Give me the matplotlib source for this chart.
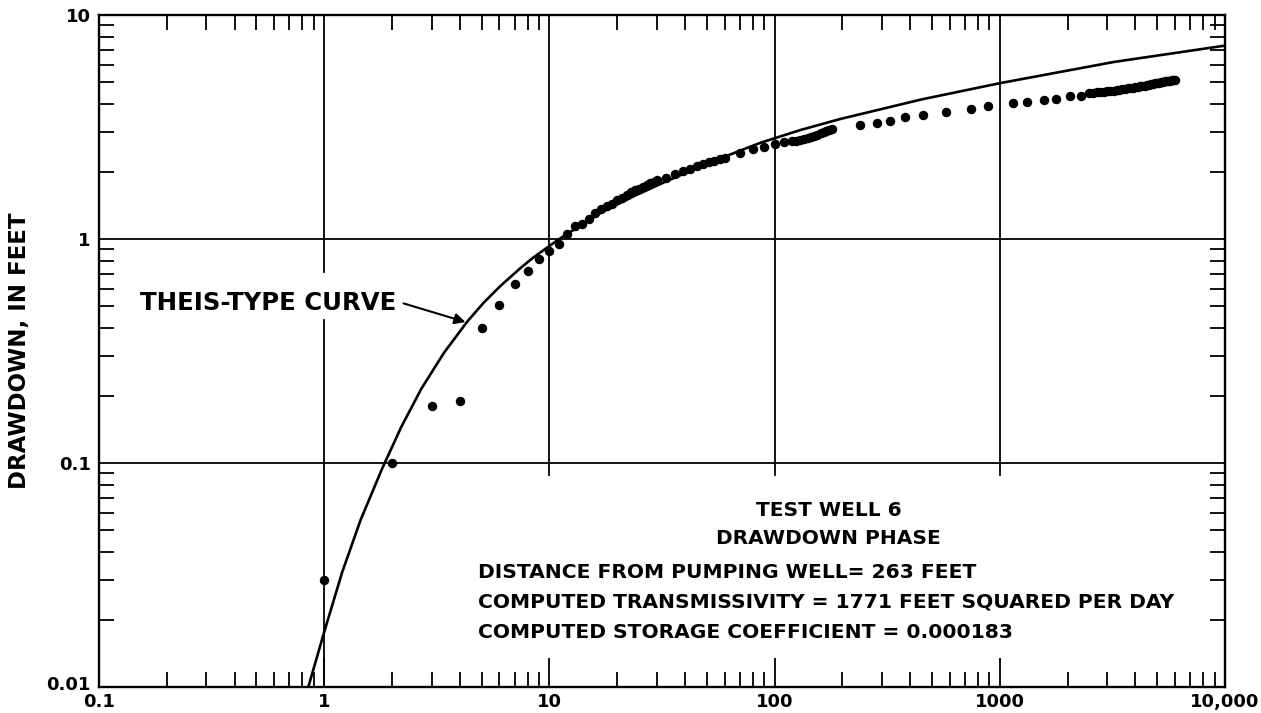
import matplotlib
matplotlib.use("Agg")
import matplotlib.pyplot as plt
from matplotlib.transforms import ScaledTranslation
from matplotlib.ticker import FixedLocator, FixedFormatter, LogLocator, NullFormatter

# observed drawdown, test well 6 (time in minutes, drawdown in feet)
obs_time = [1, 2, 3, 4, 5, 6, 7, 8, 9, 10, 11, 12, 13, 14, 15,
            16, 17, 18, 19, 20, 21, 22, 23, 24, 25, 26, 27, 28, 29, 30,
            33, 36, 39, 42, 45, 48, 51, 54, 57, 60, 70, 80, 90, 100, 110,
            120, 125, 130, 135, 140, 145, 150, 155, 160, 165, 170, 175, 180,
            240, 285, 325, 380, 455, 575, 745, 885, 1140, 1320, 1570, 1775,
            2050, 2290, 2490,
            2600, 2700, 2800, 2900, 3000, 3100, 3200, 3300, 3400, 3500,
            3600, 3700, 3800, 3900, 4000, 4100, 4200, 4300, 4400, 4500,
            4600, 4700, 4800, 4900, 5000, 5100, 5200, 5300, 5400, 5500,
            5600, 5700, 5800, 5900, 6000]
obs_drawdown = [0.03, 0.10, 0.18, 0.19, 0.40, 0.51, 0.63, 0.72, 0.81, 0.88,
                0.95, 1.05, 1.14, 1.17, 1.23,
                1.31, 1.36, 1.40, 1.44, 1.49, 1.53, 1.57, 1.62, 1.65, 1.68,
                1.71, 1.74, 1.77, 1.80, 1.83,
                1.88, 1.95, 2.01, 2.06, 2.11, 2.16, 2.20, 2.24, 2.27, 2.30,
                2.42, 2.52, 2.58, 2.66, 2.70,
                2.73, 2.75, 2.78, 2.80, 2.83, 2.86, 2.89, 2.92, 2.96, 2.99,
                3.02, 3.06, 3.10,
                3.23, 3.30, 3.37, 3.51, 3.58, 3.69, 3.80, 3.92, 4.05, 4.08,
                4.18, 4.22, 4.35, 4.35, 4.49,
                4.50, 4.52, 4.54, 4.55, 4.56, 4.57, 4.59, 4.61, 4.63, 4.65,
                4.67, 4.70, 4.72, 4.74, 4.76, 4.78, 4.80, 4.82, 4.84, 4.86,
                4.88, 4.90, 4.92, 4.95, 4.97, 4.99, 5.01, 5.03, 5.05, 5.07,
                5.08, 5.10, 5.11, 5.12, 5.13]

# Theis-type curve
curve_time = [0.85, 1.0, 1.2, 1.45, 1.81, 2.2, 2.7, 3.4, 4.31, 5.11, 6.06,
              7.43, 8.49, 11.0, 16.9, 24, 33.4, 55, 86.7, 130, 196, 450,
              1009, 3210, 10000]
curve_drawdown = [0.010, 0.0176, 0.0324, 0.0556, 0.0946, 0.145, 0.2145,
                  0.310, 0.427, 0.520, 0.617, 0.741, 0.827, 0.997, 1.31,
                  1.562, 1.818, 2.254, 2.69, 3.064, 3.435, 4.20, 4.97, 6.17,
                  7.30]

x_ticks = [0.1, 1, 10, 100, 1000, 10000]
x_labels = ["0.1", "1", "10", "100", "1000", "10,000"]
y_ticks = [0.01, 0.1, 1, 10]
y_labels = ["0.01", "0.1", "1", "10"]

info_lines = ["DISTANCE FROM PUMPING WELL= 263 FEET",
              "COMPUTED TRANSMISSIVITY = 1771 FEET SQUARED PER DAY",
              "COMPUTED STORAGE COEFFICIENT = 0.000183"]

plt.rcParams["font.family"] = ["DejaVu Sans"]
plt.rcParams["font.weight"] = "bold"

fig = plt.figure(figsize=(12.61, 7.13), dpi=100)
ax = fig.add_axes([99 / 1261, 26 / 713, 1126 / 1261, 672 / 713])
ax.set_xscale("log")
ax.set_yscale("log")
ax.set_xlim(0.1, 10000)
ax.set_ylim(0.01, 10)

for sp in ax.spines.values():
    sp.set_linewidth(1.7)

ax.xaxis.set_major_locator(FixedLocator(x_ticks))
ax.xaxis.set_major_formatter(FixedFormatter(x_labels))
ax.yaxis.set_major_locator(FixedLocator(y_ticks))
ax.yaxis.set_major_formatter(FixedFormatter(y_labels))
ax.xaxis.set_minor_locator(LogLocator(base=10, subs=range(2, 10)))
ax.yaxis.set_minor_locator(LogLocator(base=10, subs=range(2, 10)))
ax.xaxis.set_minor_formatter(NullFormatter())
ax.yaxis.set_minor_formatter(NullFormatter())

ax.tick_params(which="minor", direction="in", length=11, width=1.3,
               top=True, right=True, bottom=True, left=True)
ax.tick_params(axis="x", which="major", direction="in", length=21, width=1.3,
               top=False, pad=4, labelsize=13)
ax.tick_params(axis="y", which="major", direction="in", length=0,
               right=False, pad=6, labelsize=13)

# lift the bottom y label a little so it clears the "0.1" below it
lbl = ax.get_yticklabels()[0]
lbl.set_transform(lbl.get_transform() +
                  ScaledTranslation(0, 4 / 100, fig.dpi_scale_trans))

# grid lines, broken where the labels sit
gl = dict(color="black", lw=1.3, zorder=1)
ax.plot([1, 1], [0.01, 0.435], **gl)
ax.plot([1, 1], [0.713, 10], **gl)
for xv in [10, 100, 1000]:
    ax.plot([xv, xv], [0.088, 10], **gl)
for yv in [0.1, 1]:
    ax.axhline(yv, **gl)

ax.plot(curve_time, curve_drawdown, color="black", lw=1.9, zorder=3)
ax.plot(obs_time, obs_drawdown, "o", color="black", ms=5.8, zorder=4)

ax.text(0.152, 0.52, "THEIS-TYPE CURVE", fontsize=17.6, ha="left", va="center")
ax.annotate("", xy=(4.24, 0.426), xytext=(2.25, 0.516),
            arrowprops=dict(arrowstyle="-|>", color="black", lw=1.5,
                            mutation_scale=16, shrinkA=0, shrinkB=0))

ax.text(174, 0.0616, "TEST WELL 6", fontsize=14.5, ha="center", va="center")
ax.text(174, 0.0462, "DRAWDOWN PHASE", fontsize=14.5, ha="center", va="center")
for line, yv in zip(info_lines, [0.0326, 0.0240, 0.0176]):
    ax.text(4.8, yv, line, fontsize=14.6, ha="left", va="center")

fig.text(20 / 1261, 362 / 713, "DRAWDOWN, IN FEET", rotation=90,
         fontsize=16.5, ha="center", va="center")

fig.savefig("out.png", dpi=100)
